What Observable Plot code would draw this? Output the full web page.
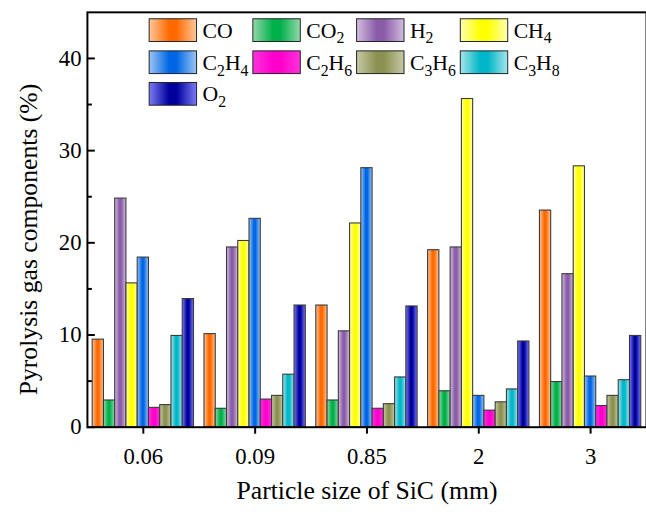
<!DOCTYPE html>
<html>
<head>
<meta charset="utf-8">
<script src="https://cdn.jsdelivr.net/npm/d3@7"></script>
<script src="https://cdn.jsdelivr.net/npm/@observablehq/plot@0.6"></script>
<style>
  html, body { margin: 0; padding: 0; overflow: hidden; background: white; }
  #chart { position: relative; width: 646px; height: 512px; overflow: hidden; }
</style>
</head>
<body>
<div id="chart"></div>
<script>
// ---- data ----
const sizes = ["0.06", "0.09", "0.85", "2", "3"];
const gases = ["CO", "CO2", "H2", "CH4", "C2H4", "C2H6", "C3H6", "C3H8", "O2"];
const CO   = [9.5, 10.1, 13.2, 19.2, 23.5];
const CO2  = [2.9, 2.0, 2.9, 3.9, 4.9];
const H2   = [24.8, 19.5, 10.4, 19.5, 16.6];
const CH4  = [15.6, 20.2, 22.1, 35.6, 28.3];
const C2H4 = [18.4, 22.6, 28.1, 3.4, 5.5];
const C2H6 = [2.1, 3.0, 2.0, 1.8, 2.3];
const C3H6 = [2.4, 3.4, 2.5, 2.7, 3.4];
const C3H8 = [9.9, 5.7, 5.4, 4.1, 5.1];
const O2   = [13.9, 13.2, 13.1, 9.3, 9.9];
const yTicks = [0, 10, 20, 30, 40];
const yMinor = [5, 15, 25, 35];

const series = {CO, CO2, H2, CH4, C2H4, C2H6, C3H6, C3H8, O2};
// legend labels: [text, subscript] parts
const labels = {
  CO: [["CO", ""]], CO2: [["CO", "2"]], H2: [["H", "2"]], CH4: [["CH", "4"]],
  C2H4: [["C", "2"], ["H", "4"]], C2H6: [["C", "2"], ["H", "6"]],
  C3H6: [["C", "3"], ["H", "6"]], C3H8: [["C", "3"], ["H", "8"]], O2: [["O", "2"]]
};
// gradient colours: [edge light, centre]
const colors = {
  CO:   ["#ffc89c", "#ff6a00"],
  CO2:  ["#93d9aa", "#00b04a"],
  H2:   ["#d2bde0", "#8a5ca8"],
  CH4:  ["#ffffb0", "#ffff00"],
  C2H4: ["#9cc6f3", "#0066e6"],
  C2H6: ["#ff33dd", "#ff00cc"],
  C3H6: ["#c6c8a6", "#8b9250"],
  C3H8: ["#a6e5ec", "#00b6c8"],
  O2:   ["#7b7bf6", "#00009c"]
};

const FONT = "'Liberation Serif', 'Times New Roman', serif";
const groupFrac = 0.906;
const w = groupFrac / gases.length;
const rows = [];
gases.forEach((g, k) => {
  series[g].forEach((v, i) => {
    rows.push({gas: g, size: i, value: v, x1: i - groupFrac / 2 + k * w, x2: i - groupFrac / 2 + (k + 1) * w});
  });
});

const plot = Plot.plot({
  width: 654,
  height: 512,
  marginLeft: 88,
  marginRight: 0,
  marginTop: 12,
  marginBottom: 80,
  style: {fontFamily: FONT, fontSize: "22px", color: "black", background: "white"},
  x: {domain: [-0.5, 4.5]},
  y: {domain: [0, 45]},
  color: {domain: gases, range: gases.map(g => `url(#grad-${g})`)},
  marks: [
    Plot.rectY(rows, {x1: "x1", x2: "x2", y1: 0, y2: "value", fill: "gas", stroke: "#3a3a3a", strokeWidth: 1.1}),
    Plot.axisX({ticks: [0, 1, 2, 3, 4], tickFormat: i => sizes[i], tickSize: 7, tickPadding: 14, strokeWidth: 2, fontSize: 23, fontFamily: FONT, label: null}),
    Plot.axisY({ticks: yTicks, tickSize: -8, tickPadding: 14, strokeWidth: 2, fontSize: 23, fontFamily: FONT, label: null}),
    Plot.axisY({ticks: yMinor, tickSize: -5, strokeWidth: 2, text: null, label: null}),
    Plot.frame({stroke: "black", strokeWidth: 2}),
    Plot.text(["Particle size of SiC (mm)"], {frameAnchor: "bottom", dy: 73, fontSize: 26, fontFamily: FONT}),
    Plot.text(["Pyrolysis gas components (%)"], {frameAnchor: "left", rotate: -90, textAnchor: "middle", dx: -59, dy: 20, fontSize: 26, fontFamily: FONT})
  ]
});

const svg = d3.select(plot);
const defs = svg.insert("defs", ":first-child");
gases.forEach(g => {
  const [light, dark] = colors[g];
  const lg = defs.append("linearGradient").attr("id", `grad-${g}`).attr("x1", "0").attr("x2", "1").attr("y1", "0").attr("y2", "0");
  lg.append("stop").attr("offset", "0%").attr("stop-color", light);
  lg.append("stop").attr("offset", "42%").attr("stop-color", dark);
  lg.append("stop").attr("offset", "58%").attr("stop-color", dark);
  lg.append("stop").attr("offset", "100%").attr("stop-color", light);
});

// legend inside the plot area
const leg = svg.append("g").attr("class", "legend").attr("text-anchor", "start");
const colX = [151, 256, 361, 466], rowY = [19, 51.5, 83.5];
gases.forEach((g, idx) => {
  const cx = colX[idx % 4], cy = rowY[Math.floor(idx / 4)];
  leg.append("rect").attr("x", cx).attr("y", cy).attr("width", 48).attr("height", 23)
    .attr("fill", `url(#grad-${g})`).attr("stroke", "#222").attr("stroke-width", 1);
  const t = leg.append("text").attr("x", cx + 54).attr("y", cy + 19).attr("text-anchor", "start")
    .attr("font-size", 22).attr("font-family", FONT).attr("fill", "black");
  let down = false;
  labels[g].forEach(([main, sub]) => {
    const m = t.append("tspan").attr("font-size", 22).text(main);
    if (down) { m.attr("dy", -6); down = false; }
    if (sub) {
      t.append("tspan").attr("font-size", 16).attr("dy", 6).text(sub);
      down = true;
    }
  });
});

document.getElementById("chart").appendChild(plot);
</script>
</body>
</html>
